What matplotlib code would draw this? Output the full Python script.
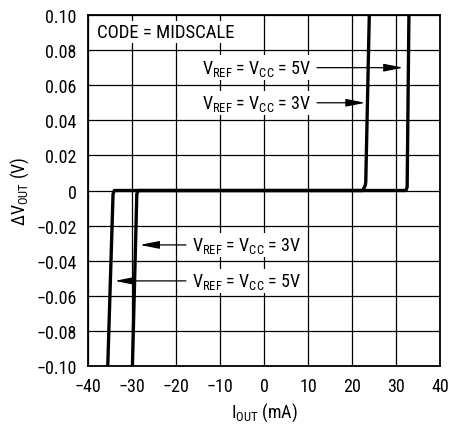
import matplotlib
matplotlib.use('Agg')
import matplotlib.pyplot as plt

# data
i_5v = [-35.5, -34.3, -34.0, 32.2, 32.5, 32.9]
v_5v = [-0.10, -0.002, 0.0, 0.0, 0.002, 0.10]
i_3v = [-29.9, -28.9, -28.6, 22.4, 23.0, 23.1, 23.9]
v_3v = [-0.10, -0.002, 0.0, 0.0, 0.003, 0.005, 0.10]

xticks = [-40, -30, -20, -10, 0, 10, 20, 30, 40]
yticks = [-0.10, -0.08, -0.06, -0.04, -0.02, 0, 0.02, 0.04, 0.06, 0.08, 0.10]
ytick_labels = ['\u22120.10', '\u22120.08', '\u22120.06', '\u22120.04', '\u22120.02', '0',
                '0.02', '0.04', '0.06', '0.08', '0.10']
xtick_labels = ['\u221240', '\u221230', '\u221220', '\u221210', '0', '10', '20', '30', '40']

plt.rcParams['font.family'] = ['Roboto Condensed', 'Liberation Sans Narrow', 'Arial Narrow',
                               'Roboto', 'DejaVu Sans']
plt.rcParams['mathtext.default'] = 'regular'
FS = 13

fig = plt.figure(figsize=(4.51, 4.27), dpi=100)
ax = fig.add_axes([0.195, 0.1405, 0.781, 0.822])

ax.set_xlim(-40, 40)
ax.set_ylim(-0.10, 0.10)
ax.set_xticks(xticks)
ax.set_xticklabels(xtick_labels, fontsize=FS)
ax.set_yticks(yticks)
ax.set_yticklabels(ytick_labels, fontsize=FS)
ax.tick_params(length=0, pad=8)
ax.grid(True, color='black', lw=0.9)
for s in ax.spines.values():
    s.set_linewidth(1.3)

ax.plot(i_5v, v_5v, color='black', lw=2.4, solid_joinstyle='round', zorder=3)
ax.plot(i_3v, v_3v, color='black', lw=2.4, solid_joinstyle='round', zorder=3)

box = dict(facecolor='white', edgecolor='none', pad=1.5)
ax.text(-38.0, 0.0905, 'CODE = MIDSCALE', fontsize=13.5, va='center', ha='left',
        bbox=box, zorder=4)

lbl5 = r'V$_{REF}$ = V$_{CC}$ = 5V'
lbl3 = r'V$_{REF}$ = V$_{CC}$ = 3V'
arrow = dict(arrowstyle='-|>,head_length=0.9,head_width=0.18', color='black', lw=0.9,
             shrinkA=3, shrinkB=0)

ax.annotate(lbl5, xy=(31.6, 0.0700), xytext=(10.6, 0.0700), fontsize=FS,
            ha='right', va='center', bbox=box, arrowprops=arrow, zorder=4)
ax.annotate(lbl3, xy=(23.0, 0.0500), xytext=(10.6, 0.0500), fontsize=FS,
            ha='right', va='center', bbox=box, arrowprops=arrow, zorder=4)
ax.annotate(lbl3, xy=(-28.2, -0.0310), xytext=(-16.3, -0.0310), fontsize=FS,
            ha='left', va='center', bbox=box, arrowprops=arrow, zorder=4)
ax.annotate(lbl5, xy=(-33.9, -0.0515), xytext=(-16.3, -0.0515), fontsize=FS,
            ha='left', va='center', bbox=box, arrowprops=arrow, zorder=4)

ax.set_xlabel(r'I$_{OUT}$ (mA)', fontsize=FS, labelpad=4)
ax.set_ylabel(r'$\Delta$V$_{OUT}$ (V)', fontsize=FS, labelpad=4)

fig.savefig('out.png', dpi=100)
plt.close()
